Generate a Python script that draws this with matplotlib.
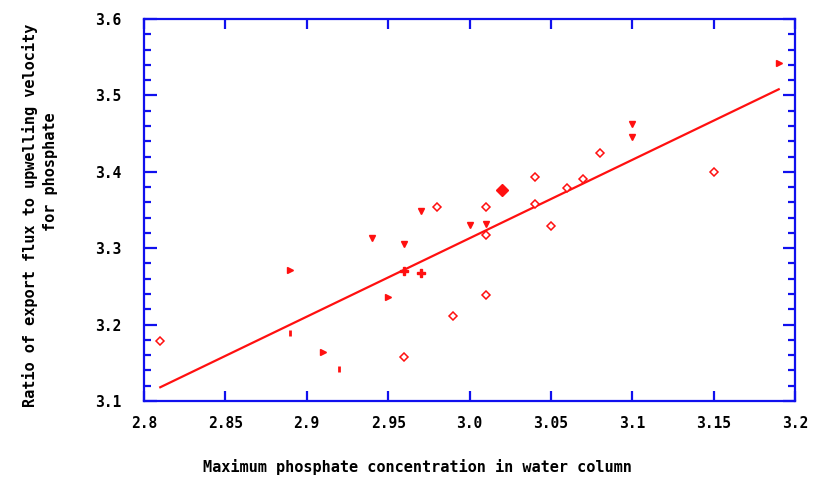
import numpy as np
import matplotlib
matplotlib.use("Agg")
from matplotlib import pyplot as plt
from matplotlib.ticker import MultipleLocator, FixedLocator, FixedFormatter

# open diamonds
diam_x = [2.81, 2.96, 2.98, 2.99, 3.01, 3.01, 3.01, 3.04, 3.04, 3.05, 3.06, 3.07, 3.08, 3.15]
diam_y = [3.178, 3.158, 3.354, 3.211, 3.354, 3.317, 3.239, 3.393, 3.358, 3.329, 3.379, 3.391, 3.425, 3.400]
# down triangles
down_x = [2.94, 2.96, 2.97, 3.00, 3.01, 3.10, 3.10]
down_y = [3.313, 3.306, 3.349, 3.330, 3.332, 3.463, 3.446]
# right triangles
right_x = [2.89, 2.91, 2.95, 3.19]
right_y = [3.272, 3.164, 3.236, 3.542]
# plus
plus_x = [2.96, 2.97]
plus_y = [3.270, 3.268]
# small bars
bar_x = [2.89, 2.92]
bar_y = [3.189, 3.142]
# filled diamond
fdiam_x = [3.02]
fdiam_y = [3.376]

# fitted line
line_x = [2.81, 3.19]
line_y = [3.118, 3.508]

xticks = [2.8, 2.85, 2.9, 2.95, 3.0, 3.05, 3.1, 3.15, 3.2]
xticklabels = ["2.8", "2.85", "2.9", "2.95", "3.0", "3.05", "3.1", "3.15", "3.2"]
yticks = [3.1, 3.2, 3.3, 3.4, 3.5, 3.6]
yticklabels = ["3.1", "3.2", "3.3", "3.4", "3.5", "3.6"]

red = "#ff1010"
blue = "#1010ee"
font = {"family": "DejaVu Sans Mono", "weight": "bold"}

fig = plt.figure(figsize=(8.14, 4.86), dpi=100)
ax = fig.add_axes([144 / 814, 1 - 401 / 486, 651 / 814, 382 / 486])

ax.plot(line_x, line_y, color=red, lw=1.6)
ax.plot(diam_x, diam_y, ls="none", marker="D", ms=4, mfc="white", mec=red, mew=1.1)
ax.plot(down_x, down_y, ls="none", marker="v", ms=5, color=red)
ax.plot(right_x, right_y, ls="none", marker=">", ms=5, color=red)
ax.plot(plus_x, plus_y, ls="none", marker="P", ms=5.5, color=red)
ax.plot(bar_x, bar_y, ls="none", marker="|", ms=5, mew=2, color=red)
ax.plot(fdiam_x, fdiam_y, ls="none", marker="D", ms=6, color=red)

ax.set_xlim(2.8, 3.2)
ax.set_ylim(3.1, 3.6)
ax.xaxis.set_major_locator(FixedLocator(xticks))
ax.xaxis.set_major_formatter(FixedFormatter(xticklabels))
ax.yaxis.set_major_locator(FixedLocator(yticks))
ax.yaxis.set_major_formatter(FixedFormatter(yticklabels))
ax.yaxis.set_minor_locator(MultipleLocator(0.02))

for s in ax.spines.values():
    s.set_color(blue)
    s.set_linewidth(1.6)
ax.tick_params(which="both", direction="in", color=blue, width=1.6,
               top=True, right=True, labelsize=10.5)
ax.tick_params(axis="x", which="major", length=7, pad=11)
ax.tick_params(axis="y", which="major", length=9, pad=16)
ax.tick_params(axis="y", which="minor", length=5)
for lab in ax.get_xticklabels() + ax.get_yticklabels():
    lab.set_fontfamily(font["family"])
    lab.set_fontweight("bold")

fig.text(417 / 814, 1 - 467 / 486, "Maximum phosphate concentration in water column",
         ha="center", va="center", fontsize=11, **font)
fig.text(30 / 814, 1 - 215 / 486, "Ratio of export flux to upwelling velocity",
         ha="center", va="center", rotation=90, fontsize=11, **font)
fig.text(50 / 814, 1 - 172 / 486, "for phosphate",
         ha="center", va="center", rotation=90, fontsize=11, **font)

fig.savefig("out.png", dpi=100)
